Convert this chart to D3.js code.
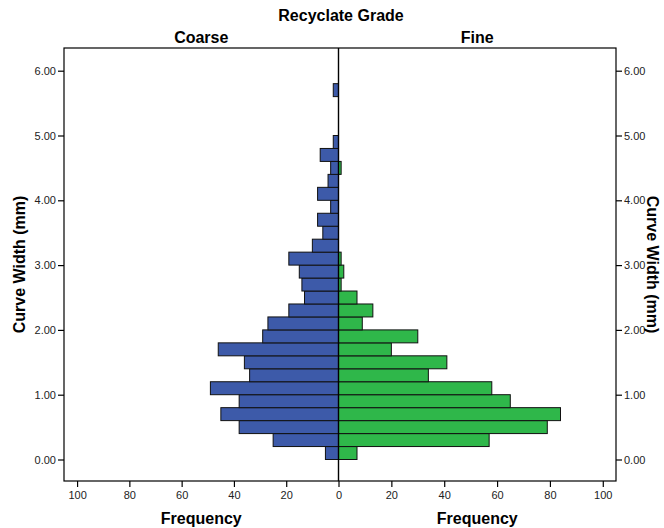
<!DOCTYPE html>
<html><head><meta charset="utf-8">
<script src="https://cdn.jsdelivr.net/npm/d3@7/dist/d3.min.js"></script>
<style>body{margin:0;background:#fff}svg{display:block;font-family:"Liberation Sans",Arial,sans-serif}</style>
</head><body><svg id="c" width="664" height="528"></svg>
<script>
// bins of Curve Width (mm): [binStart, binStart+0.2)
const binStarts = d3.range(0, 30).map(i => +(i * 0.2).toFixed(1));
const coarse = [5,25,38,45,38,49,34,36,46,29,27,19,13,14,15,19,10,6,8,3,8,4,3,7,2,0,0,0,2,0];
const fine   = [7,57,79,84,65,58,34,41,20,30,9,13,7,1,2,1,0,0,0,0,0,0,1,0,0,0,0,0,0,0];
const yTicks = [0,1,2,3,4,5,6];
const xTicks = [0,20,40,60,80,100];
const binWidth = 0.2;

const svg = d3.select("#c");
const L = 64, C = 338.5, R = 616, T = 48, B = 481;
const y = d3.scaleLinear().domain([0, 6]).range([459.5, 70.7]);
const xl = d3.scaleLinear().domain([105, 0]).range([L, C]);
const xr = d3.scaleLinear().domain([0, 105]).range([C, R]);

// bars
const gL = svg.append("g");
gL.selectAll("rect").data(binStarts.map((b,i)=>({b, v: coarse[i]})).filter(d=>d.v>0))
  .join("rect")
  .attr("x", d => xl(d.v)).attr("width", d => xl(0) - xl(d.v))
  .attr("y", d => y(d.b + binWidth)).attr("height", d => y(d.b) - y(d.b + binWidth))
  .attr("fill", "#3d5aa9").attr("stroke", "#111").attr("stroke-width", 1);
const gR = svg.append("g");
gR.selectAll("rect").data(binStarts.map((b,i)=>({b, v: fine[i]})).filter(d=>d.v>0))
  .join("rect")
  .attr("x", xr(0)).attr("width", d => xr(d.v) - xr(0))
  .attr("y", d => y(d.b + binWidth)).attr("height", d => y(d.b) - y(d.b + binWidth))
  .attr("fill", "#2fb74a").attr("stroke", "#111").attr("stroke-width", 1);

// frames
svg.append("rect").attr("x", L).attr("y", T).attr("width", R - L).attr("height", B - T)
  .attr("fill", "none").attr("stroke", "#000").attr("stroke-width", 1.2);
svg.append("line").attr("x1", C).attr("x2", C).attr("y1", T).attr("y2", B)
  .attr("stroke", "#000").attr("stroke-width", 1.4);

const fmt = d3.format(".2f");
// y axes
const ayl = svg.append("g").attr("transform", `translate(${L},0)`)
  .call(d3.axisLeft(y).tickValues(yTicks).tickFormat(fmt).tickSize(6).tickPadding(2));
const ayr = svg.append("g").attr("transform", `translate(${R},0)`)
  .call(d3.axisRight(y).tickValues(yTicks).tickFormat(fmt).tickSize(6).tickPadding(2));
// x axes
const axl = svg.append("g").attr("transform", `translate(0,${B})`)
  .call(d3.axisBottom(xl).tickValues(xTicks).tickSize(6).tickPadding(4));
const axr = svg.append("g").attr("transform", `translate(0,${B})`)
  .call(d3.axisBottom(xr).tickValues(xTicks.filter(v=>v>0)).tickSize(6).tickPadding(4));
[ayl, ayr, axl, axr].forEach(a => {
  a.select(".domain").remove();
  a.selectAll(".tick line").attr("stroke", "#000").attr("stroke-width", 1.2);
  a.selectAll(".tick text").attr("fill", "#222").style("font-size", "11px")
    .style("font-family", '"Liberation Sans",Arial,sans-serif');
});

// titles
const bold = (x, yy, t, size, rot) => {
  const tx = svg.append("text").attr("text-anchor", "middle")
    .attr("font-weight", "bold").attr("font-size", size).attr("fill", "#000").text(t);
  if (rot) tx.attr("transform", `translate(${x},${yy}) rotate(${rot})`).attr("dy", "0.35em");
  else tx.attr("x", x).attr("y", yy).attr("dy", "0.35em");
};
bold((L + R) / 2 + 1, 15, "Recyclate Grade", "16px");
bold((L + C) / 2, 37, "Coarse", "16px");
bold((C + R) / 2, 37, "Fine", "16px");
bold((L + C) / 2, 518, "Frequency", "16px");
bold((C + R) / 2, 518, "Frequency", "16px");
bold(19, (T + B) / 2, "Curve Width (mm)", "16px", -90);
bold(653, (T + B) / 2, "Curve Width (mm)", "16px", 90);
</script></body></html>
